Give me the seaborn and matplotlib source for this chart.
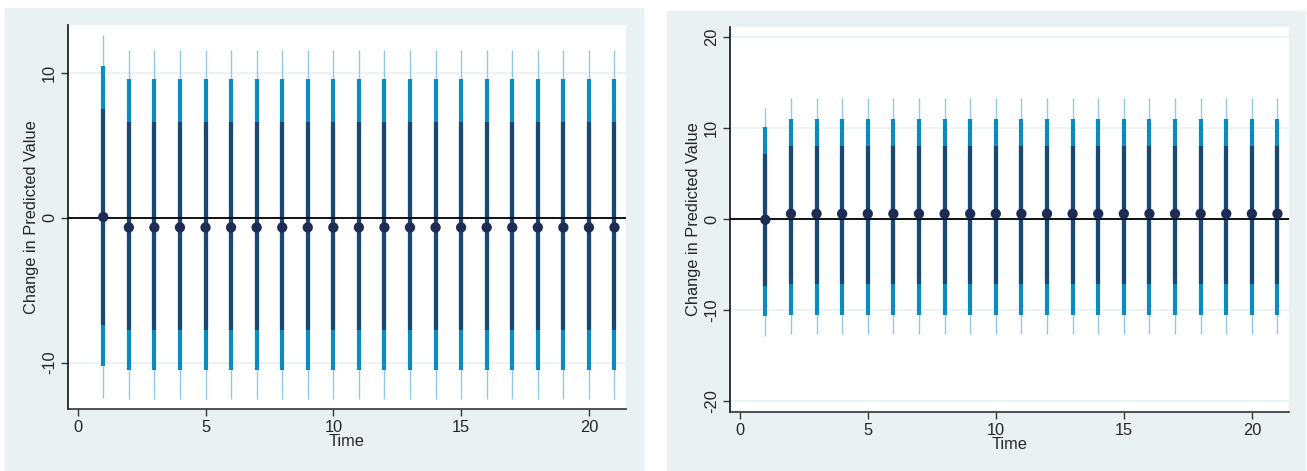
import numpy as np
import pandas as pd
import matplotlib
matplotlib.use("Agg")
import matplotlib.pyplot as plt
import seaborn as sns

sns.set_style("white")
plt.rcParams["font.family"] = ["Liberation Sans", "DejaVu Sans"]

# time points shared by both panels
time = list(range(1, 22))

# left panel: estimate and interval bounds (inner / middle / outer)
left_est = [0.05] + [-0.67] * 20
left_in_lo = [-7.38] + [-7.78] * 20
left_in_hi = [7.47] + [6.64] * 20
left_mid_lo = [-10.24] + [-10.52] * 20
left_mid_hi = [10.45] + [9.55] * 20
left_out_lo = [-12.43] + [-12.5] * 20
left_out_hi = [12.6] + [11.56] * 20

# right panel
right_est = [-0.07] + [0.58] * 20
right_in_lo = [-7.4] + [-7.15] * 20
right_in_hi = [7.18] + [8.08] * 20
right_mid_lo = [-10.7] + [-10.55] * 20
right_mid_hi = [10.1] + [11.0] * 20
right_out_lo = [-12.9] + [-12.65] * 20
right_out_hi = [12.2] + [13.3] * 20

x_ticks = [0, 5, 10, 15, 20]
left_yticks = [-10, 0, 10]
right_yticks = [-20, -10, 0, 10, 20]

BG = "#eaf1f3"
C_OUT = "#93c8ec"
C_MID = "#0a8cc0"
C_IN = "#1a4870"
C_DOT = "#1e2b55"

fig = plt.figure(figsize=(13.07, 4.71), dpi=100)
W, H = 1307, 471

# panel backgrounds
for x0, x1, ytop in [(5, 643, 8), (667, 1305, 11)]:
    rect = plt.Rectangle((x0 / W, 0), (x1 - x0) / W, (H - ytop) / H,
                         transform=fig.transFigure, color=BG, zorder=-10)
    fig.patches.append(rect)


def interval_df(lo, hi):
    return pd.DataFrame({
        "Time": time + time,
        "value": list(lo) + list(hi),
    })


def draw_panel(ax, est, in_lo, in_hi, mid_lo, mid_hi, out_lo, out_hi, ylim, yticks):
    ax.set_facecolor("white")
    ax.set_zorder(5)
    for y in yticks:
        ax.axhline(y, color="#ecf3f5", lw=1.5, zorder=0)
    layers = [(out_lo, out_hi, C_OUT, 1.0), (mid_lo, mid_hi, C_MID, 3.0), (in_lo, in_hi, C_IN, 3.0)]
    for lo, hi, col, lw in layers:
        sns.lineplot(data=interval_df(lo, hi), x="Time", y="value", units="Time",
                     estimator=None, sort=False, color=col, lw=lw, ax=ax,
                     solid_capstyle="butt", zorder=2)
    ax.axhline(0, color="black", lw=1.3, zorder=3)
    sns.scatterplot(x=time, y=est, color=C_DOT, s=55, edgecolor="none", ax=ax, zorder=4)
    ax.set_xlim(-0.38, 21.45)
    ax.set_ylim(*ylim)
    ax.set_xticks(x_ticks)
    ax.set_yticks(yticks)
    ax.set_yticklabels([str(v) for v in yticks], rotation=90, va="center")
    ax.tick_params(axis="both", direction="out", length=5, width=1, color="#333333",
                   labelsize=11.8, pad=3, left=True, bottom=True)
    ax.set_xlabel("Time", fontsize=11.8, labelpad=-1)
    ax.set_ylabel("Change in Predicted Value", fontsize=11.8, labelpad=2)
    for s in ["top", "right"]:
        ax.spines[s].set_visible(False)
    ax.spines["left"].set_color("#111111")
    ax.spines["bottom"].set_color("#333333")
    ax.spines["left"].set_linewidth(1.2)
    ax.spines["bottom"].set_linewidth(1.2)


ax1 = fig.add_axes([68 / W, (H - 409) / H, 558 / W, 384 / H])
draw_panel(ax1, left_est, left_in_lo, left_in_hi, left_mid_lo, left_mid_hi,
           left_out_lo, left_out_hi, (-13.2, 13.3), left_yticks)

ax2 = fig.add_axes([730 / W, (H - 412) / H, 559 / W, 385 / H])
draw_panel(ax2, right_est, right_in_lo, right_in_hi, right_mid_lo, right_mid_hi,
           right_out_lo, right_out_hi, (-21.2, 21.1), right_yticks)

fig.savefig("out.png", dpi=100)
